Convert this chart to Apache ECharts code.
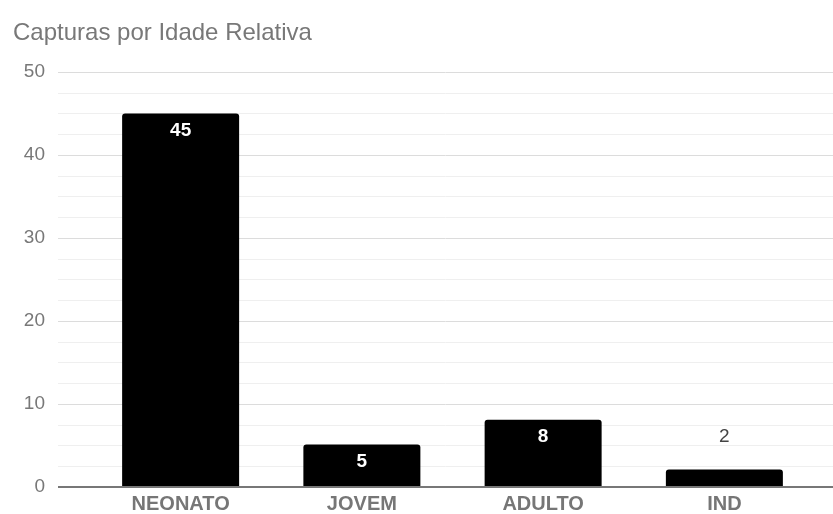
<!DOCTYPE html>
<html><head><meta charset="utf-8">
<script src="https://cdn.jsdelivr.net/npm/echarts@6/dist/echarts.min.js"></script>
<style>html,body{margin:0;padding:0;background:#fff}#c{width:833px;height:514px}</style>
</head><body><div id="c"></div>
<script>
const title = 'Capturas por Idade Relativa';
const categories = ['NEONATO', 'JOVEM', 'ADULTO', 'IND'];
const values = [45, 5, 8, 2];
const yMin = 0, yMax = 50, yInterval = 10;

const FONT = '"Liberation Sans", Arial, sans-serif';
const chart = echarts.init(document.getElementById('c'));
const data = values.map(v => {
  const small = v < 4;
  return {
    value: v,
    label: small
      ? { position: 'top', distance: 23, color: '#444', fontWeight: 'normal' }
      : { position: 'insideTop', distance: 8, color: '#fff', fontWeight: 'bold' }
  };
});
chart.setOption({
  animation: false,
  title: { text: title, left: 8, top: 16, textStyle: { fontFamily: FONT, fontSize: 24, fontWeight: 'normal', color: '#787878' } },
  grid: [
    { left: 58, right: 0, top: 72, bottom: 27 },
    { left: 90, right: 18, top: 72, bottom: 27 }
  ],
  xAxis: [
    { gridIndex: 0, type: 'value', min: 0, max: 1, show: false },
    { gridIndex: 1, type: 'category', data: categories,
      axisLine: { show: false }, axisTick: { show: false },
      axisLabel: { fontFamily: FONT, fontSize: 20, fontWeight: 'bold', color: '#767676', margin: 8 } }
  ],
  yAxis: [
    { gridIndex: 0, type: 'value', min: yMin, max: yMax, interval: yInterval,
      axisLine: { show: false }, axisTick: { show: false },
      axisLabel: { fontFamily: FONT, fontSize: 19, color: '#787878', margin: 13 },
      splitLine: { lineStyle: { color: '#dcdcdc', width: 1 } },
      minorTick: { show: false, splitNumber: 4 },
      minorSplitLine: { show: true, lineStyle: { color: '#efefef', width: 1 } } },
    { gridIndex: 1, type: 'value', min: yMin, max: yMax, interval: yInterval, show: false, splitLine: { show: false } }
  ],
  series: [
    { type: 'line', xAxisIndex: 0, yAxisIndex: 0, data: [[0, 0], [1, 0]], symbol: 'none', silent: true,
      lineStyle: { color: '#777', width: 2 }, z: 1 },
    { type: 'bar', xAxisIndex: 1, yAxisIndex: 1, data: data, barWidth: 117,
      itemStyle: { color: '#000', borderRadius: [3, 3, 0, 0] }, z: 3,
      label: { show: true, fontFamily: FONT, fontSize: 19 } }
  ]
});
</script></body></html>
